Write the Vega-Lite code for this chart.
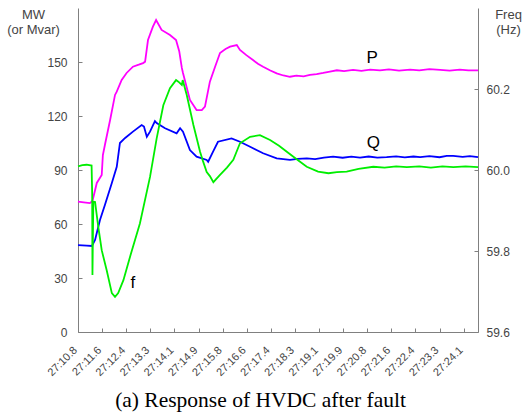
{
  "$schema": "https://vega.github.io/schema/vega-lite/v6.json",
  "width": 400,
  "height": 324,
  "autosize": {"type": "none"},
  "padding": {"left": 78, "top": 8, "right": 45, "bottom": 82},
  "background": "white",
  "config": {
    "view": {"stroke": null},
    "axis": {"grid": false, "domainColor": "#808080", "tickColor": "#808080", "labelFont": "Liberation Sans", "titleFont": "Liberation Sans", "labelColor": "#444444", "titleColor": "#444444", "titleFontWeight": "normal"},
    "axisX": {"labelOverlap": false, "labelBound": false, "labelFlush": false}
  },
  "datasets": {
    "pq": [
      {"series": "P", "t": 10.80, "mw": 72.4}, {"series": "P", "t": 11.00, "mw": 72.0}, {"series": "P", "t": 11.21, "mw": 71.6}, {"series": "P", "t": 11.30, "mw": 72.8},
      {"series": "P", "t": 11.45, "mw": 82.8}, {"series": "P", "t": 11.62, "mw": 87.2}, {"series": "P", "t": 11.66, "mw": 98.3}, {"series": "P", "t": 11.73, "mw": 103.9},
      {"series": "P", "t": 11.91, "mw": 117.8}, {"series": "P", "t": 12.08, "mw": 131.7}, {"series": "P", "t": 12.14, "mw": 133.5}, {"series": "P", "t": 12.31, "mw": 140.0},
      {"series": "P", "t": 12.48, "mw": 143.9}, {"series": "P", "t": 12.70, "mw": 147.4}, {"series": "P", "t": 12.90, "mw": 148.5}, {"series": "P", "t": 13.05, "mw": 149.4},
      {"series": "P", "t": 13.12, "mw": 150.2}, {"series": "P", "t": 13.22, "mw": 162.2}, {"series": "P", "t": 13.39, "mw": 169.6}, {"series": "P", "t": 13.50, "mw": 173.3},
      {"series": "P", "t": 13.69, "mw": 167.8}, {"series": "P", "t": 13.98, "mw": 165.0}, {"series": "P", "t": 14.19, "mw": 162.2}, {"series": "P", "t": 14.30, "mw": 156.0},
      {"series": "P", "t": 14.39, "mw": 146.7}, {"series": "P", "t": 14.43, "mw": 143.9}, {"series": "P", "t": 14.67, "mw": 128.9}, {"series": "P", "t": 14.90, "mw": 123.3},
      {"series": "P", "t": 15.08, "mw": 123.3}, {"series": "P", "t": 15.19, "mw": 125.2}, {"series": "P", "t": 15.36, "mw": 139.1}, {"series": "P", "t": 15.54, "mw": 147.4},
      {"series": "P", "t": 15.71, "mw": 155.0}, {"series": "P", "t": 15.90, "mw": 157.2}, {"series": "P", "t": 16.06, "mw": 158.5}, {"series": "P", "t": 16.29, "mw": 159.4},
      {"series": "P", "t": 16.40, "mw": 156.7}, {"series": "P", "t": 16.62, "mw": 153.8}, {"series": "P", "t": 16.85, "mw": 151.1}, {"series": "P", "t": 17.02, "mw": 149.0},
      {"series": "P", "t": 17.20, "mw": 147.4}, {"series": "P", "t": 17.45, "mw": 145.3}, {"series": "P", "t": 17.67, "mw": 143.7}, {"series": "P", "t": 17.90, "mw": 142.5},
      {"series": "P", "t": 18.13, "mw": 141.8}, {"series": "P", "t": 18.35, "mw": 142.4}, {"series": "P", "t": 18.60, "mw": 142.0}, {"series": "P", "t": 18.82, "mw": 142.8},
      {"series": "P", "t": 19.05, "mw": 143.3}, {"series": "P", "t": 19.28, "mw": 143.9}, {"series": "P", "t": 19.51, "mw": 144.6}, {"series": "P", "t": 19.75, "mw": 145.4},
      {"series": "P", "t": 20.00, "mw": 144.9}, {"series": "P", "t": 20.31, "mw": 145.6}, {"series": "P", "t": 20.60, "mw": 145.1}, {"series": "P", "t": 20.90, "mw": 145.8},
      {"series": "P", "t": 21.24, "mw": 145.3}, {"series": "P", "t": 21.55, "mw": 145.9}, {"series": "P", "t": 21.90, "mw": 145.2}, {"series": "P", "t": 22.28, "mw": 145.8},
      {"series": "P", "t": 22.60, "mw": 145.3}, {"series": "P", "t": 22.95, "mw": 146.0}, {"series": "P", "t": 23.32, "mw": 145.6}, {"series": "P", "t": 23.65, "mw": 145.2},
      {"series": "P", "t": 24.00, "mw": 145.8}, {"series": "P", "t": 24.30, "mw": 145.4}, {"series": "P", "t": 24.63, "mw": 145.3},
      {"series": "Q", "t": 10.80, "mw": 48.3}, {"series": "Q", "t": 11.10, "mw": 48.0}, {"series": "Q", "t": 11.28, "mw": 47.8}, {"series": "Q", "t": 11.39, "mw": 51.1},
      {"series": "Q", "t": 11.56, "mw": 62.2}, {"series": "Q", "t": 11.73, "mw": 70.6}, {"series": "Q", "t": 11.97, "mw": 82.8}, {"series": "Q", "t": 12.14, "mw": 91.8},
      {"series": "Q", "t": 12.25, "mw": 105.0}, {"series": "Q", "t": 12.43, "mw": 107.8}, {"series": "Q", "t": 12.70, "mw": 111.3}, {"series": "Q", "t": 13.00, "mw": 115.0},
      {"series": "Q", "t": 13.08, "mw": 114.1}, {"series": "Q", "t": 13.18, "mw": 108.5}, {"series": "Q", "t": 13.29, "mw": 111.3}, {"series": "Q", "t": 13.46, "mw": 117.2},
      {"series": "Q", "t": 13.52, "mw": 116.1}, {"series": "Q", "t": 13.81, "mw": 113.2}, {"series": "Q", "t": 14.21, "mw": 110.4}, {"series": "Q", "t": 14.33, "mw": 113.2},
      {"series": "Q", "t": 14.43, "mw": 111.3}, {"series": "Q", "t": 14.67, "mw": 101.1}, {"series": "Q", "t": 14.90, "mw": 97.4}, {"series": "Q", "t": 15.25, "mw": 95.6},
      {"series": "Q", "t": 15.30, "mw": 94.6}, {"series": "Q", "t": 15.47, "mw": 100.2}, {"series": "Q", "t": 15.64, "mw": 105.7}, {"series": "Q", "t": 16.11, "mw": 107.6},
      {"series": "Q", "t": 16.40, "mw": 105.7}, {"series": "Q", "t": 16.75, "mw": 102.9}, {"series": "Q", "t": 17.20, "mw": 99.3}, {"series": "Q", "t": 17.67, "mw": 96.5},
      {"series": "Q", "t": 18.13, "mw": 95.6}, {"series": "Q", "t": 18.40, "mw": 96.2}, {"series": "Q", "t": 18.71, "mw": 96.5}, {"series": "Q", "t": 19.00, "mw": 96.0},
      {"series": "Q", "t": 19.30, "mw": 96.9}, {"series": "Q", "t": 19.62, "mw": 97.4}, {"series": "Q", "t": 19.95, "mw": 96.8}, {"series": "Q", "t": 20.25, "mw": 97.4},
      {"series": "Q", "t": 20.55, "mw": 96.9}, {"series": "Q", "t": 20.85, "mw": 97.5}, {"series": "Q", "t": 21.15, "mw": 96.9}, {"series": "Q", "t": 21.47, "mw": 97.1},
      {"series": "Q", "t": 21.80, "mw": 97.6}, {"series": "Q", "t": 22.10, "mw": 97.0}, {"series": "Q", "t": 22.40, "mw": 97.5}, {"series": "Q", "t": 22.63, "mw": 97.2},
      {"series": "Q", "t": 22.95, "mw": 97.7}, {"series": "Q", "t": 23.30, "mw": 97.1}, {"series": "Q", "t": 23.55, "mw": 97.8}, {"series": "Q", "t": 23.77, "mw": 97.8},
      {"series": "Q", "t": 24.10, "mw": 97.3}, {"series": "Q", "t": 24.35, "mw": 97.7}, {"series": "Q", "t": 24.63, "mw": 97.1}
    ],
    "freq": [
      {"t": 10.80, "hz": 60.009}, {"t": 10.95, "hz": 60.012}, {"t": 11.10, "hz": 60.013}, {"t": 11.27, "hz": 60.011}, {"t": 11.29, "hz": 59.940},
      {"t": 11.30, "hz": 59.741}, {"t": 11.33, "hz": 59.922}, {"t": 11.39, "hz": 59.921}, {"t": 11.50, "hz": 59.860}, {"t": 11.62, "hz": 59.802},
      {"t": 11.79, "hz": 59.753}, {"t": 11.97, "hz": 59.696}, {"t": 12.08, "hz": 59.687}, {"t": 12.19, "hz": 59.696}, {"t": 12.37, "hz": 59.728},
      {"t": 12.60, "hz": 59.786}, {"t": 12.94, "hz": 59.868}, {"t": 13.29, "hz": 59.983}, {"t": 13.52, "hz": 60.078}, {"t": 13.75, "hz": 60.160},
      {"t": 13.98, "hz": 60.202}, {"t": 14.19, "hz": 60.222}, {"t": 14.27, "hz": 60.218}, {"t": 14.39, "hz": 60.210}, {"t": 14.42, "hz": 60.222},
      {"t": 14.56, "hz": 60.185}, {"t": 14.79, "hz": 60.111}, {"t": 15.02, "hz": 60.045}, {"t": 15.13, "hz": 60.020}, {"t": 15.25, "hz": 59.995},
      {"t": 15.36, "hz": 59.985}, {"t": 15.48, "hz": 59.970}, {"t": 15.71, "hz": 59.988}, {"t": 15.95, "hz": 60.006}, {"t": 16.17, "hz": 60.025},
      {"t": 16.40, "hz": 60.066}, {"t": 16.75, "hz": 60.082}, {"t": 17.09, "hz": 60.086}, {"t": 17.44, "hz": 60.074}, {"t": 17.75, "hz": 60.060},
      {"t": 18.02, "hz": 60.045}, {"t": 18.35, "hz": 60.027}, {"t": 18.71, "hz": 60.008}, {"t": 19.10, "hz": 59.996}, {"t": 19.46, "hz": 59.992},
      {"t": 19.75, "hz": 59.995}, {"t": 20.09, "hz": 59.996}, {"t": 20.50, "hz": 60.003}, {"t": 21.01, "hz": 60.008}, {"t": 21.40, "hz": 60.006},
      {"t": 21.80, "hz": 60.009}, {"t": 22.17, "hz": 60.007}, {"t": 22.60, "hz": 60.009}, {"t": 23.00, "hz": 60.006}, {"t": 23.40, "hz": 60.009},
      {"t": 23.78, "hz": 60.007}, {"t": 24.20, "hz": 60.009}, {"t": 24.63, "hz": 60.007}
    ],
    "labels": [
      {"label": "P", "t": 20.97, "mw": 152.2},
      {"label": "Q", "t": 21.01, "mw": 105.0},
      {"label": "f", "t": 12.70, "mw": 27.2}
    ]
  },
  "layer": [
    {
      "data": {"name": "pq"},
      "mark": {"type": "line", "strokeWidth": 1.8},
      "encoding": {
        "x": {
          "field": "t", "type": "quantitative",
          "scale": {"domain": [10.8, 24.63], "nice": false, "zero": false},
          "axis": {
            "values": [10.8, 11.6333, 12.4667, 13.3, 14.1333, 14.9667, 15.8, 16.6333, 17.4667, 18.3, 19.1333, 19.9667, 20.8, 21.6333, 22.4667, 23.3, 24.1333],
            "tickCount": 30,
            "labelExpr": "'27:' + ['10.8','11.6','12.4','13.3','14.1','14.9','15.8','16.6','17.4','18.3','19.1','19.9','20.8','21.6','22.4','23.3','24.1'][round((datum.value - 10.8) / 0.83333)]",
            "labelAngle": -45, "labelFontSize": 11, "labelOverlap": false, "labelBound": false, "labelFlush": false,
            "tickSize": -4, "labelPadding": 16, "labelOffset": -7,
            "title": "(a) Response of HVDC after fault", "titleFont": "Liberation Serif", "titleFontSize": 21.5,
            "titleColor": "black", "titleX": 182, "titleY": 74, "titleAlign": "center", "titleBaseline": "alphabetic"
          }
        },
        "y": {
          "field": "mw", "type": "quantitative",
          "scale": {"domain": [0, 180], "nice": false},
          "axis": {
            "orient": "left", "values": [0, 30, 60, 90, 120, 150], "tickSize": -4, "labelPadding": 15, "labelFontSize": 12,
            "title": ["MW", "(or Mvar)"], "titleAngle": 0, "titleX": -45, "titleY": 0, "titleAlign": "center",
            "titleBaseline": "top", "titleFontSize": 13, "titleLineHeight": 15
          }
        },
        "color": {"field": "series", "type": "nominal", "scale": {"domain": ["P", "Q"], "range": ["#ff00ff", "#0000ff"]}, "legend": null}
      }
    },
    {
      "data": {"name": "freq"},
      "mark": {"type": "line", "strokeWidth": 1.8, "color": "#00ee00"},
      "encoding": {
        "x": {"field": "t", "type": "quantitative"},
        "y": {
          "field": "hz", "type": "quantitative",
          "scale": {"domain": [59.6, 60.4], "nice": false, "zero": false},
          "axis": {
            "orient": "right", "values": [59.6, 59.8, 60.0, 60.2], "format": ".1f", "tickSize": -4, "labelPadding": 12, "labelFontSize": 12,
            "title": ["Freq", "(Hz)"], "titleAngle": 0, "titleX": 30, "titleY": 0, "titleAlign": "center",
            "titleBaseline": "top", "titleFontSize": 13, "titleLineHeight": 15
          }
        }
      }
    },
    {
      "data": {"name": "labels"},
      "mark": {"type": "text", "font": "Liberation Sans", "fontSize": 17, "color": "black", "align": "center", "baseline": "middle"},
      "encoding": {
        "x": {"field": "t", "type": "quantitative"},
        "y": {"field": "mw", "type": "quantitative", "scale": {"domain": [0, 180], "nice": false}, "axis": null},
        "text": {"field": "label"}
      }
    }
  ],
  "resolve": {"scale": {"y": "independent"}, "axis": {"y": "independent"}}
}
